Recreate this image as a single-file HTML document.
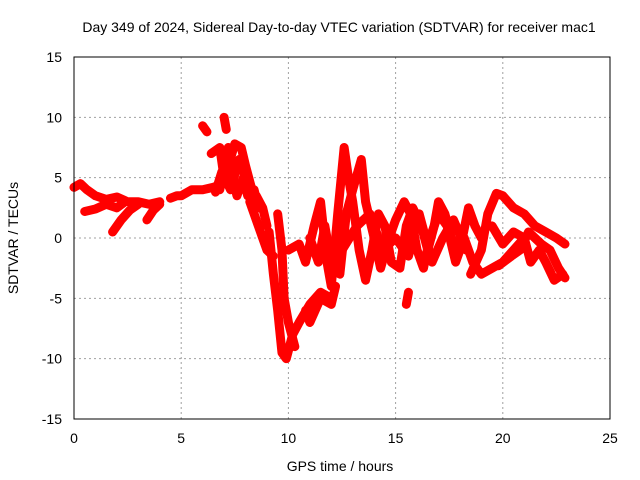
<!DOCTYPE html>
<html><head><meta charset="utf-8"><style>
body{margin:0;background:#fff;}
svg{display:block;font-family:"Liberation Sans",sans-serif;}
</style></head><body>
<svg id="chart" width="640" height="480">
<rect width="640" height="480" fill="#fff"/>
<text x="339" y="32" font-size="14" text-anchor="middle">Day 349 of 2024, Sidereal Day-to-day VTEC variation (SDTVAR) for receiver mac1</text>
<text x="340" y="471" font-size="14" text-anchor="middle">GPS time / hours</text>
<text x="18" y="238" font-size="14" text-anchor="middle" transform="rotate(-90 18 238)">SDTVAR / TECUs</text>
<g id="grid"></g><g id="ticks"></g><g id="marks"></g>
<rect x="74" y="57" width="536" height="362" fill="none" stroke="#000" stroke-width="1"/>
</svg>
<script>
const xTicks=[0,5,10,15,20,25];
const yTicks=[15,10,5,0,-5,-10,-15];
const track1=[[0,4.2],[0.3,4.5],[0.6,4],[1,3.5],[1.5,3.2],[2,3.4],[2.5,3],[3,3],[3.5,2.8],[4,3]];
const track2=[[0.5,2.2],[1,2.4],[1.5,2.8],[2,2.5],[2.3,2.9]];
const track3=[[1.8,0.5],[2.2,1.5],[2.6,2.3],[3,2.8]];
const track4=[[3.4,1.5],[3.7,2.3],[4,2.8]];
const track5=[[4.5,3.3],[4.8,3.5],[5,3.5],[5.5,4],[6,4],[6.5,4.2],[7,4.5],[7.5,4.5],[8,4.2],[8.5,3.5],[8.8,2.5],[9,1]];
const track6=[[6.4,7],[6.8,7.5],[7,5],[7.2,6],[7.5,7.8],[7.8,7.5],[8,6],[8.3,4]];
const track7=[[6,9.3],[6.2,8.8]];
const track8=[[7,10],[7.1,9]];
const track9=[[8.2,3],[8.6,1],[9,-1],[9.3,-1.5]];
const track10=[[9.1,0.5],[9.3,-3],[9.5,-6],[9.7,-9.5],[9.9,-10],[10.2,-8],[10.5,-7],[11,-5.5],[11.5,-4.5],[12,-5]];
const track11=[[9.5,2],[9.7,-1],[9.8,-5],[10,-7],[10.3,-9]];
const track12=[[10,-1],[10.5,-0.5],[10.8,-2],[11.2,1],[11.5,3],[11.8,-2],[12,-4],[12.3,2],[12.6,7.5],[12.8,5],[13,3],[13.3,-1],[13.6,-3.5],[13.9,-1],[14.2,2],[14.5,1],[14.8,-2],[15.2,-2.5],[15.5,1],[15.8,2.5],[16.2,1],[16.5,-1],[16.8,1],[17,3],[17.3,2],[17.6,0],[18,-1],[18.4,2.5],[18.7,1],[19,0]];
const track13=[[12.4,-3],[12.7,2],[13,4],[13.4,6.5],[13.6,3],[14,0],[14.3,-2.5],[14.7,0],[15,1.5],[15.4,3],[15.7,2],[16,-1],[16.3,-2.5],[16.6,0],[17,2],[17.4,1],[17.8,-2],[18.2,0],[18.6,-2],[19,-3],[19.5,-2.5],[20,-2],[20.5,-1],[21,0]];
const track14=[[18.5,-3],[19,-1],[19.3,2],[19.7,3.7],[20,3.5],[20.5,2.5],[21,2],[21.5,1],[22,0.5],[22.5,0],[22.9,-0.5]];
const track15=[[19.5,1],[20,-0.5],[20.5,0.5],[21,0],[21.3,-2],[21.7,-1],[22,-2],[22.4,-3.5],[22.8,-3]];
const track16=[[19.8,-2.3],[20.4,-1.5],[20.8,-1],[21.2,0.5],[21.8,-0.5],[22.2,-1],[22.6,-2.5],[22.9,-3.3]];
const track17=[[15.5,-5.5],[15.6,-4.5]];
const track18=[[10.8,-6],[11,-7],[11.5,-5],[12,-5.5],[12.2,-4]];
const track19=[[6.8,4],[7,6],[7.2,7.5],[7.4,5],[7.6,3.5],[7.9,5],[8.1,3.5],[8.4,4],[8.6,2.5]];
const track20=[[6.6,3.8],[6.9,5.5],[7.3,4],[7.7,6.5],[8,5],[8.3,3]];
const track21=[[11,0],[11.4,-2],[11.7,1],[12.1,-3],[12.5,-1],[13.2,1],[13.8,2],[14.4,-1],[15,0],[15.6,-1.5],[16.1,2],[16.7,-2],[17.2,0],[17.7,1.5],[18.3,-1]];
const tracks=[track1,track2,track3,track4,track5,track6,track7,track8,track9,track10,track11,track12,track13,track14,track15,track16,track17,track18,track19,track20,track21];
const NS='http://www.w3.org/2000/svg';
const X=t=>74+t*536/25, Y=v=>238-v*362/30;
function mk(tag,attrs,parent){const e=document.createElementNS(NS,tag);for(const k in attrs)e.setAttribute(k,attrs[k]);parent.appendChild(e);return e;}
const grid=document.getElementById('grid'),ticks=document.getElementById('ticks'),marks=document.getElementById('marks');
xTicks.forEach(t=>{
  if(t>0&&t<25){const g=mk('line',{x1:X(t),x2:X(t),y1:57,y2:419,stroke:'#a0a0a0','stroke-dasharray':'2,3'},grid);
  
  }
  const l=mk('text',{x:X(t),y:443,'font-size':14,'text-anchor':'middle'},ticks);l.textContent=t;
  
  
});
yTicks.forEach(v=>{
  if(v>-15&&v<15){const g=mk('line',{x1:74,x2:610,y1:Y(v),y2:Y(v),stroke:'#a0a0a0','stroke-dasharray':'2,3'},grid);
  
  }
  const l=mk('text',{x:62,y:Y(v)+5,'font-size':14,'text-anchor':'end'},ticks);l.textContent=v;
  
  
});
tracks.forEach(tr=>{
  const p=mk('polyline',{points:tr.map(d=>X(d[0])+','+Y(d[1])).join(' '),fill:'none',stroke:'#f00','stroke-width':9,'stroke-linejoin':'round','stroke-linecap':'round'},marks);
  
  
  tr.forEach(d=>{
    const m=mk('path',{d:`M${X(d[0])-4},${Y(d[1])}h8M${X(d[0])},${Y(d[1])-4}v8`,stroke:'#f00','stroke-width':1.5},marks);
    
    
  });
});
</script>
</body></html>
